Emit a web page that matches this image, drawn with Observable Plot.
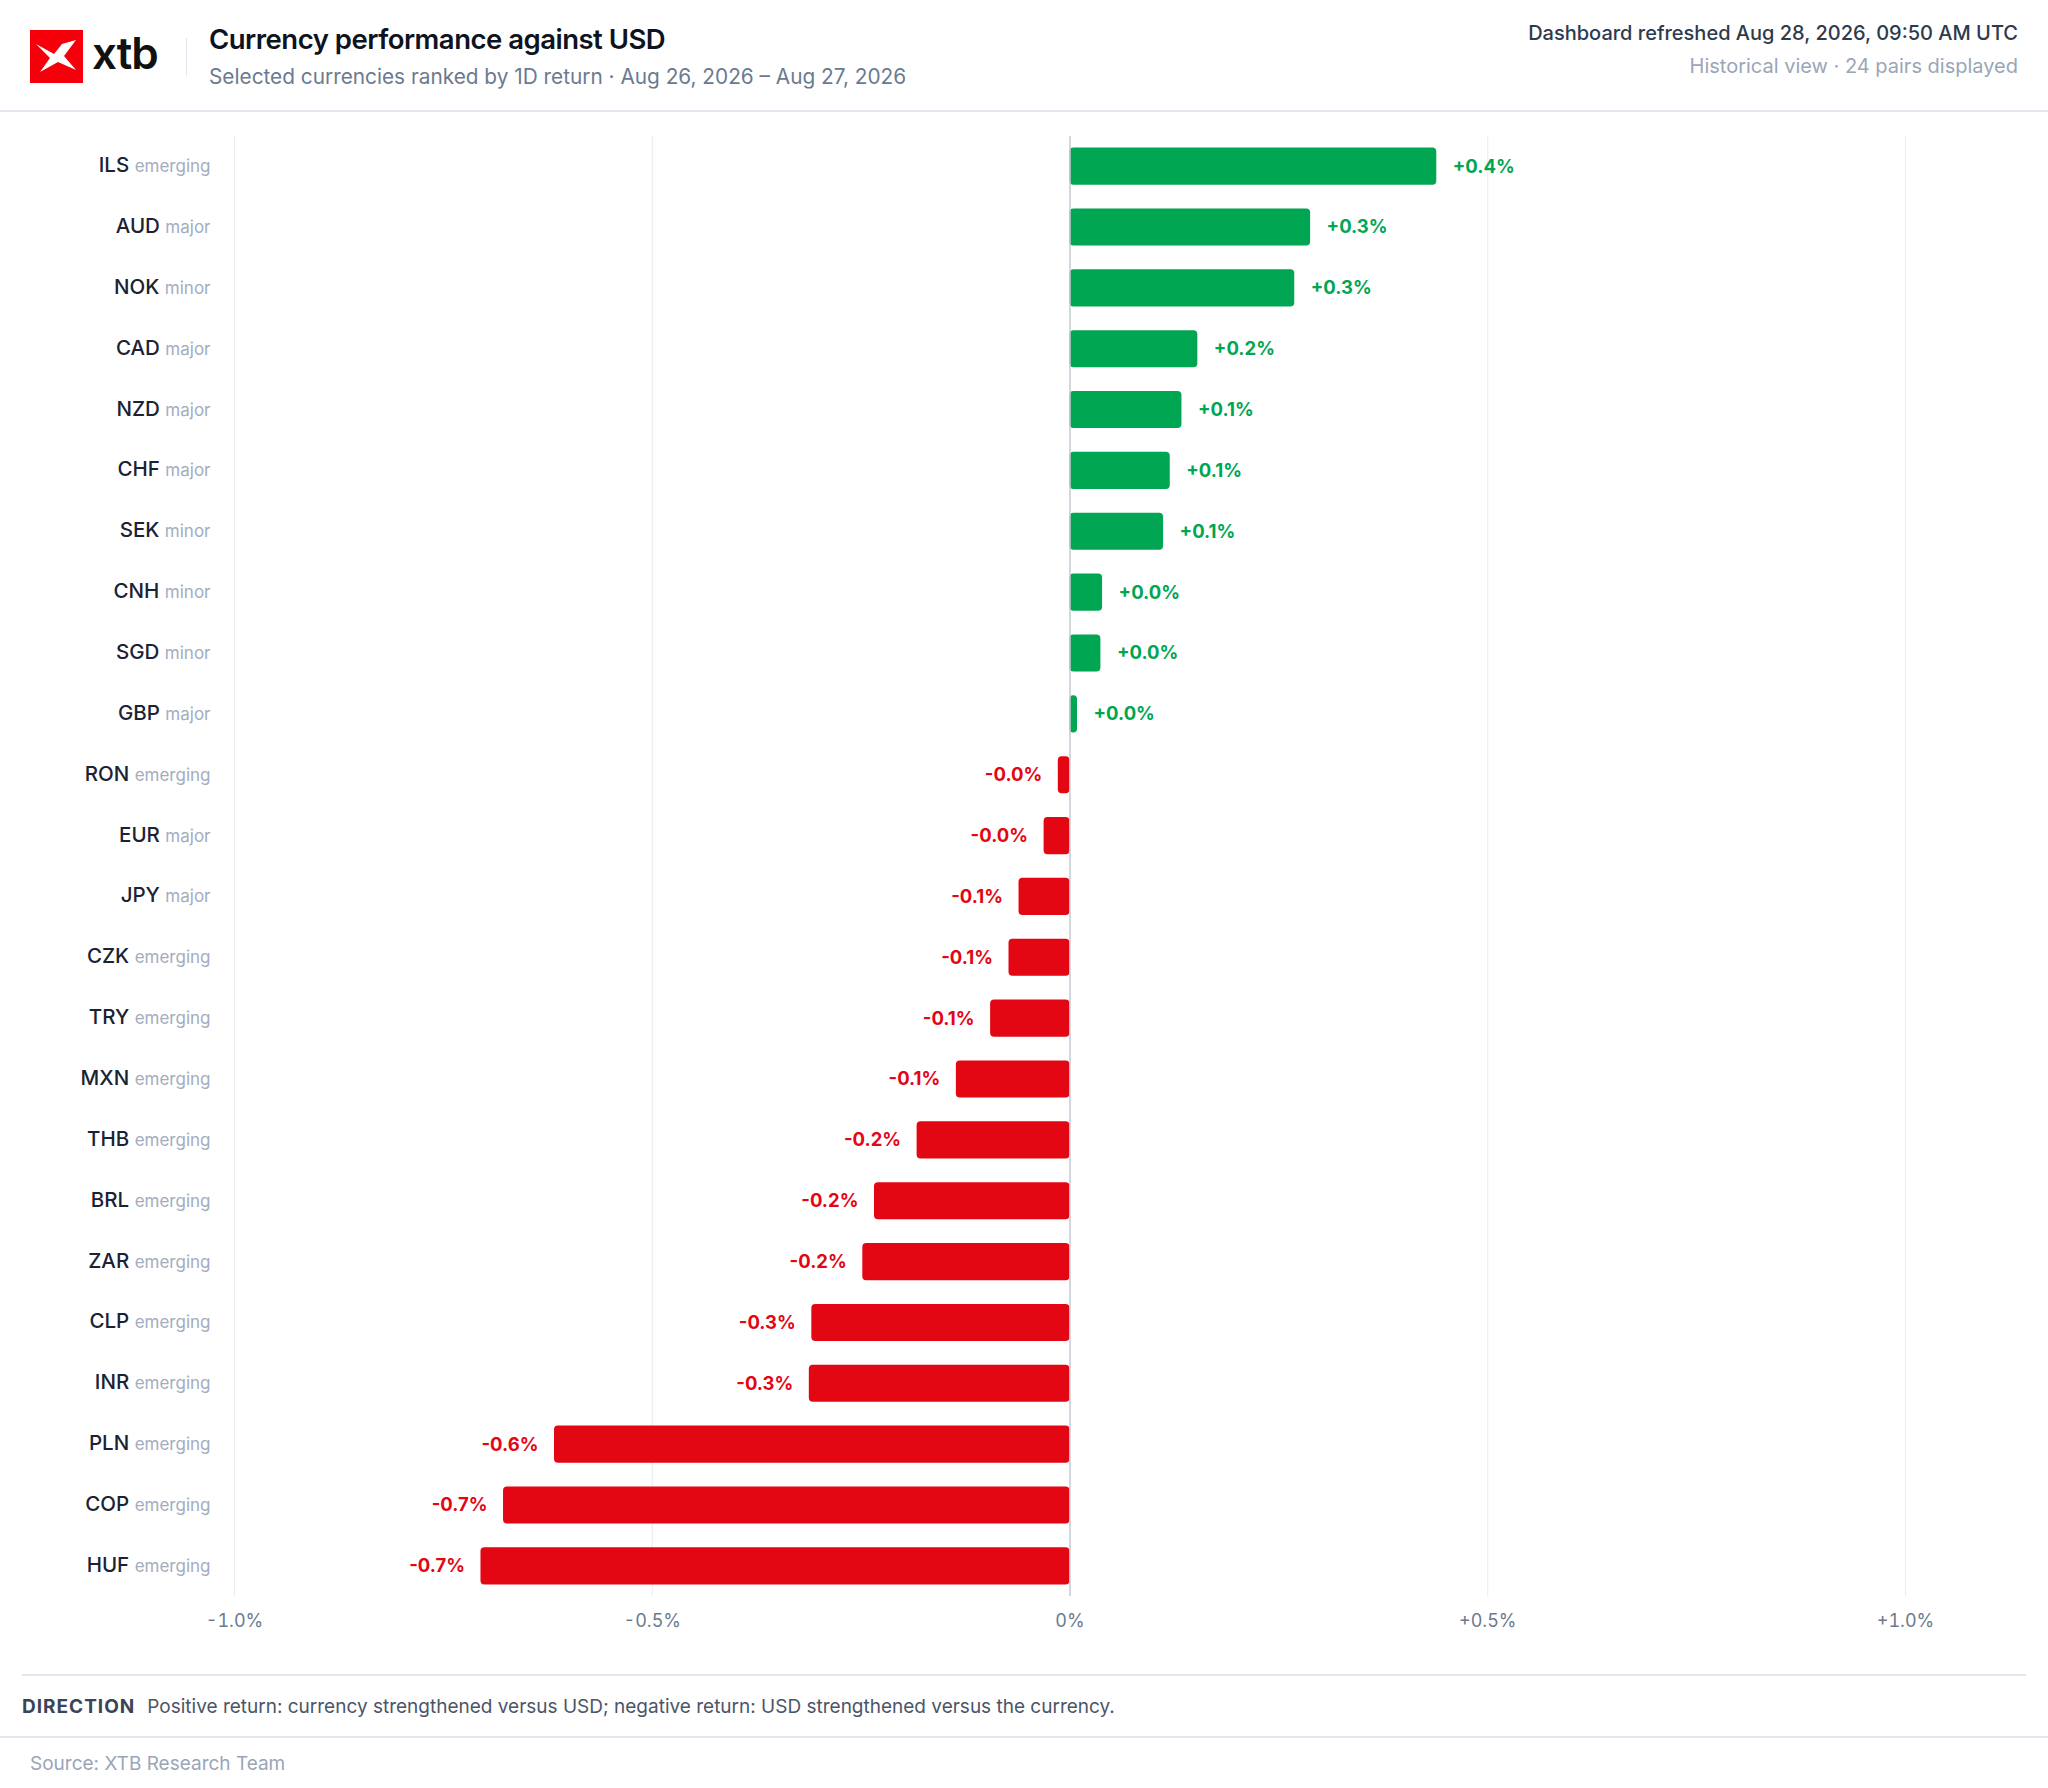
<!DOCTYPE html>
<html><head><meta charset="utf-8">
<script src="https://cdn.jsdelivr.net/npm/d3@7"></script>
<script src="https://cdn.jsdelivr.net/npm/@observablehq/plot@0.6"></script>
<style>
body{margin:0;background:#fff;font-family:Inter,"Noto Sans",sans-serif;width:2048px}
.hdr{position:relative;height:112px;border-bottom:2px solid #e3e7ef;box-sizing:border-box}
.logo{position:absolute;left:30px;top:30px;width:53px;height:53px;background:#f5000a}
.brand{position:absolute;left:92px;top:26px;font-size:44px;font-weight:600;color:#111;letter-spacing:-1px}
.sep{position:absolute;left:186px;top:38px;width:1px;height:38px;background:#e3e7ef}
.title{position:absolute;left:209px;top:22px;font-size:27.5px;font-weight:600;color:#0d1321;letter-spacing:-0.5px}
.sub{position:absolute;left:209px;top:64px;font-size:20.8px;color:#6b7a90}
.r1{position:absolute;right:30px;top:21px;font-size:20px;font-weight:500;color:#2e3a4d}
.r2{position:absolute;right:30px;top:54px;font-size:20px;color:#9aa5b8}
.foot{margin:0 22px;border-top:2px solid #e3e7ef;height:60px;display:flex;align-items:center;font-size:19px;color:#4b5567}
.foot b{color:#3a4457;letter-spacing:1px;margin-right:12px;font-weight:700}
.src{border-top:2px solid #e3e7ef;padding:14px 30px;font-size:19px;color:#9aa5b8}
</style></head><body>
<div class="hdr">
<div class="logo"><svg width="53" height="53" viewBox="0 0 53 53"><path d="M6 14 L24 24 L32 14 L46 10 L34 26 L46 40 L28 32 L10 42 L20 28 Z" fill="#fff"/></svg></div>
<div class="brand">xtb</div><div class="sep"></div>
<div class="title">Currency performance against USD</div>
<div class="sub">Selected currencies ranked by 1D return · Aug 26, 2026 – Aug 27, 2026</div>
<div class="r1">Dashboard refreshed Aug 28, 2026, 09:50 AM UTC</div>
<div class="r2">Historical view · 24 pairs displayed</div>
</div>
<div id="chart"></div>
<div class="foot"><b>DIRECTION</b>Positive return: currency strengthened versus USD; negative return: USD strengthened versus the currency.</div>
<div class="src">Source: XTB Research Team</div>
<script>
const codes = ["ILS","AUD","NOK","CAD","NZD","CHF","SEK","CNH","SGD","GBP","RON","EUR","JPY","CZK","TRY","MXN","THB","BRL","ZAR","CLP","INR","PLN","COP","HUF"];
const groups = ["emerging","major","minor","major","major","major","minor","minor","minor","major","emerging","major","major","emerging","emerging","emerging","emerging","emerging","emerging","emerging","emerging","emerging","emerging","emerging"];
const returns = [0.439,0.288,0.269,0.153,0.134,0.120,0.112,0.039,0.037,0.009,-0.014,-0.031,-0.061,-0.073,-0.095,-0.136,-0.183,-0.234,-0.248,-0.309,-0.312,-0.617,-0.678,-0.705];
const xTicks = [-1,-0.5,0,0.5,1];
const tickLabels = ["-1.0%","-0.5%","0%","+0.5%","+1.0%"];

const data = codes.map((c,i)=>({code:c, group:groups[i], v:returns[i]}));
const fmt = v => (v>=0?"+":"-")+Math.abs(v).toFixed(1)+"%";
const GREEN="#00a651", RED="#e30613";

const plot = Plot.plot({
  width:2048, height:1562,
  marginLeft:234, marginRight:143, marginTop:24, marginBottom:78,
  style:{fontFamily:"Inter, sans-serif"},
  x:{domain:[-1,1], label:null},
  y:{domain:codes, paddingInner:0.39, paddingOuter:0.19, round:false, axis:null},
  marks:[
    Plot.gridX(xTicks.filter(d=>d!==0), {stroke:"#e8ebf0", strokeOpacity:1}),
    Plot.barX(data,{x:"v", y:"code", fill:d=>d.v>=0?GREEN:RED, rx:4}),
    Plot.ruleX([0],{stroke:"#c5cad3", strokeWidth:1.5}),
    Plot.text(data,{x:"v", y:"code", text:d=>fmt(d.v), textAnchor:"start", fill:GREEN, fontWeight:700, fontSize:18.5, filter:d=>d.v>=0, dx:16}),
    Plot.text(data,{x:"v", y:"code", text:d=>fmt(d.v), textAnchor:"end", fill:RED, fontWeight:700, fontSize:18.5, filter:d=>d.v<0, dx:-16}),
    Plot.text(data,{y:"code", frameAnchor:"left", text:"group", textAnchor:"end", dx:-24, fill:"#a3adbe", fontSize:17, className:"grp"}),
    Plot.axisX({ticks:xTicks, tickFormat:d=>tickLabels[xTicks.indexOf(d)], tickSize:0, tickPadding:18, fontSize:18, color:"#6b7a90", label:null})
  ]
});
document.getElementById("chart").appendChild(plot);
plot.querySelectorAll(".grp text").forEach((t,i)=>{
  const g = t.textContent;
  t.textContent="";
  const a=document.createElementNS("http://www.w3.org/2000/svg","tspan");
  a.textContent=codes[i]+" "; a.setAttribute("fill","#1a2233"); a.setAttribute("font-size","20.5"); a.setAttribute("font-weight","500");
  const b=document.createElementNS("http://www.w3.org/2000/svg","tspan");
  b.textContent=g;
  t.appendChild(a); t.appendChild(b);
});
</script>
</body></html>
